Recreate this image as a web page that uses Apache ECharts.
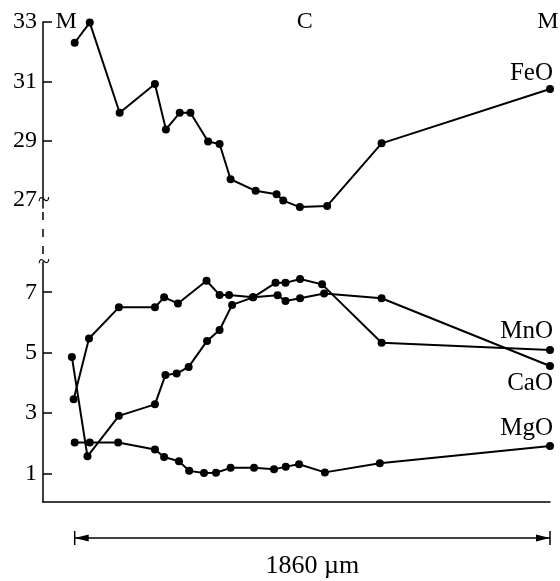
<!DOCTYPE html>
<html><head><meta charset="utf-8">
<script src="https://cdn.jsdelivr.net/npm/echarts@6/dist/echarts.min.js"></script>
<style>html,body{margin:0;padding:0;background:#fff}#c{width:560px;height:581px}</style>
</head><body><div id="c"></div>
<script>
// distance along the traverse, µm
const feoX = [0, 59, 176, 314, 357, 411, 453, 522, 567, 610, 708, 790, 816, 881, 988, 1201, 1860];
const feoY = [32.30, 32.98, 29.94, 30.91, 29.38, 29.94, 29.94, 28.97, 28.89, 27.70, 27.31, 27.19, 26.98, 26.76, 26.80, 28.91, 30.74];

const mnoX = [-11, 50, 173, 314, 355, 399, 446, 518, 567, 616, 698, 786, 825, 882, 968, 1201, 1860];
const mnoY = [4.86, 1.57, 2.91, 3.29, 4.26, 4.31, 4.53, 5.39, 5.75, 6.58, 6.83, 7.31, 7.31, 7.44, 7.26, 5.33, 5.09];

const caoX = [-4, 56, 173, 314, 350, 404, 516, 567, 604, 698, 794, 825, 882, 976, 1201, 1860];
const caoY = [3.46, 5.47, 6.50, 6.50, 6.83, 6.63, 7.38, 6.91, 6.91, 6.83, 6.90, 6.71, 6.80, 6.96, 6.80, 4.56];

const mgoX = [0, 59, 170, 314, 350, 408, 448, 506, 553, 610, 702, 780, 826, 878, 979, 1194, 1860];
const mgoY = [2.03, 2.03, 2.03, 1.80, 1.55, 1.41, 1.09, 1.02, 1.03, 1.19, 1.19, 1.14, 1.23, 1.31, 1.04, 1.34, 1.91];

const upperTicks = [29, 31, 33];
const upperLabels = [27, 29, 31, 33];
const lowerTicks = [1, 3, 5, 7];
const zoneNames = ['M', 'C', 'M'];
const zoneX = [-33, 900, 1852];
const traverseLength = 1860;
const traverseText = '1860 µm';

const FONT = 'Liberation Serif';
const chart = echarts.init(document.getElementById('c'), null, {renderer: 'canvas'});

function pts(xs, ys, name, labelPos, offset) {
  return xs.map((x, i) => {
    if (i < xs.length - 1) return [x, ys[i]];
    return {value: [x, ys[i]], label: {show: true, formatter: name, position: labelPos, align: 'right',
      distance: 0, offset: offset, fontFamily: FONT, fontSize: 25, color: '#000'}};
  });
}
function lineSeries(name, xi, yi, data) {
  return {name, type: 'line', xAxisIndex: xi, yAxisIndex: yi, data, symbol: 'circle', symbolSize: 8,
    clip: false, itemStyle: {color: '#000'}, lineStyle: {color: '#000', width: 2}, animation: false,
    emphasis: {disabled: true}};
}
const axLine = {show: true, onZero: false, lineStyle: {color: '#000', width: 1.5}};
const yLab = {fontFamily: FONT, fontSize: 24, color: '#000', margin: 6};

chart.setOption({
  animation: false,
  grid: [
    {left: 43, top: 22, width: 507, height: 186},
    {left: 43, top: 262, width: 507, height: 240}
  ],
  xAxis: [
    {gridIndex: 0, type: 'value', min: -124, max: traverseLength, show: false},
    {gridIndex: 1, type: 'value', min: -124, max: traverseLength, axisLine: axLine,
      axisTick: {show: false}, axisLabel: {show: false}, splitLine: {show: false}}
  ],
  yAxis: [
    {gridIndex: 0, type: 'value', min: 26.73, max: 33, axisLine: axLine,
      axisTick: {show: true, inside: true, length: 9, customValues: upperTicks, lineStyle: {color: '#000', width: 1.5}},
      axisLabel: Object.assign({customValues: upperLabels}, yLab), splitLine: {show: false}},
    {gridIndex: 1, type: 'value', min: 0.06, max: 8, axisLine: axLine,
      axisTick: {show: true, inside: true, length: 9, customValues: lowerTicks, lineStyle: {color: '#000', width: 1.5}},
      axisLabel: Object.assign({customValues: lowerTicks}, yLab), splitLine: {show: false}}
  ],
  series: [
    lineSeries('FeO', 0, 0, pts(feoX, feoY, 'FeO', 'top', [3, 1])),
    lineSeries('MnO', 1, 1, pts(mnoX, mnoY, 'MnO', 'top', [3, -2])),
    lineSeries('CaO', 1, 1, pts(caoX, caoY, 'CaO', 'bottom', [3, 1])),
    lineSeries('MgO', 1, 1, pts(mgoX, mgoY, 'MgO', 'top', [3, -1]))
  ]
});

// decorations derived from axes
const px = v => chart.convertToPixel({xAxisIndex: 1}, v);
const ax = chart.convertToPixel({xAxisIndex: 1}, -124);
const yTop27 = chart.convertToPixel({yAxisIndex: 0}, 27);
const yTop33 = chart.convertToPixel({yAxisIndex: 0}, 33);
const yUpBottom = chart.convertToPixel({yAxisIndex: 0}, 26.73);
const yLowTop = chart.convertToPixel({yAxisIndex: 1}, 8);
const yLowBottom = chart.convertToPixel({yAxisIndex: 1}, 0.06);
const x0 = px(0), x1 = px(traverseLength);
const barY = yLowBottom + 36;
const g = [];
g.push({type: 'line', shape: {x1: ax, y1: yUpBottom + 4, x2: ax, y2: yLowTop - 4},
  style: {stroke: '#000', lineWidth: 1.5, lineDash: [8, 9]}});
[yTop27, yLowTop].forEach(y => g.push({type: 'text', x: ax + 1, y: y,
  style: {text: '~', font: '22px ' + FONT, fill: '#000', textAlign: 'center', textVerticalAlign: 'middle'}}));
zoneNames.forEach((n, i) => g.push({type: 'text', x: px(zoneX[i]), y: yTop33,
  style: {text: n, font: '24px ' + FONT, fill: '#000', textAlign: 'center', textVerticalAlign: 'middle'}}));
g.push({type: 'line', shape: {x1: x0, y1: barY, x2: x1, y2: barY}, style: {stroke: '#000', lineWidth: 1.5}});
[x0, x1].forEach(x => g.push({type: 'line', shape: {x1: x, y1: barY - 7, x2: x, y2: barY + 7}, style: {stroke: '#000', lineWidth: 1.5}}));
g.push({type: 'polygon', shape: {points: [[x0, barY], [x0 + 14, barY - 3.5], [x0 + 14, barY + 3.5]]}, style: {fill: '#000'}});
g.push({type: 'polygon', shape: {points: [[x1, barY], [x1 - 14, barY - 3.5], [x1 - 14, barY + 3.5]]}, style: {fill: '#000'}});
g.push({type: 'text', x: (x0 + x1) / 2, y: barY + 28,
  style: {text: traverseText, font: '26px ' + FONT, fill: '#000', textAlign: 'center', textVerticalAlign: 'middle'}});
chart.setOption({graphic: g});
</script></body></html>
